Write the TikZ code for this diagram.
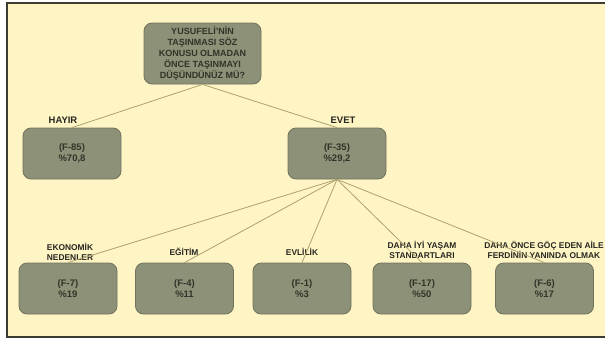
\documentclass[tikz,border=0pt]{standalone}
\usepackage{fontspec}
\setmainfont{Liberation Sans}
\usetikzlibrary{positioning}
\definecolor{paper}{RGB}{255,245,196}
\definecolor{frameedge}{RGB}{62,60,48}
\definecolor{boxfill}{RGB}{140,145,120}
\definecolor{boxedge}{RGB}{112,116,92}
\definecolor{boxtext}{RGB}{50,52,40}
\definecolor{tagtext}{RGB}{38,38,34}
\definecolor{branchcol}{RGB}{172,162,112}
\tikzset{
  box/.style={draw=boxedge, fill=boxfill, rounded corners=8pt, line width=0.8pt,
    minimum width=98pt, minimum height=51pt, inner sep=0pt, align=center,
    text=boxtext, font=\fontsize{9.5}{11}\selectfont\bfseries},
  question/.style={box, minimum width=117pt, minimum height=61pt,
    font=\fontsize{9}{11.2}\selectfont\bfseries},
  answer/.style={inner sep=0pt, text=tagtext, font=\fontsize{9.5}{11}\selectfont\bfseries},
  reason/.style={inner sep=0pt, align=center, text=tagtext, font=\fontsize{8.4}{10}\selectfont\bfseries},
  branch/.style={draw=branchcol, line width=0.8pt}
}

\begin{document}
\begin{tikzpicture}[x=1pt,y=-1pt]
      \useasboundingbox (0,0) rectangle (605,340);
      \fill[white] (0,0) rectangle (605,340);
      \draw[fill=paper, draw=frameedge, line width=1.5pt] (7,3) rectangle (615,337);
      % question and first answers
      \node[question] (q) at (202.5,53.5) {YUSUFELİ'NİN\\TAŞINMASI SÖZ\\KONUSU OLMADAN\\ÖNCE TAŞINMAYI\\DÜŞÜNDÜNÜZ MÜ?};
      \node[box] (hayir) at (72,153.5) {(F-85)\\\%70,8};
      \node[box] (evet) at (337,153.5) {(F-35)\\\%29,2};
      \node[answer] (hayirtag) at (63,120) {HAYIR};
      \node[answer] (evettag) at (343,120) {EVET};
      % reasons
      \node[box] (ekon) at (68,288.5) {(F-7)\\\%19};
      \node[box] (egit) at (184.5,288.5) {(F-4)\\\%11};
      \node[box] (evli) at (302,288.5) {(F-1)\\\%3};
      \node[box] (yasam) at (422,288.5) {(F-17)\\\%50};
      \node[box] (aile) at (544.5,288.5) {(F-6)\\\%17};
      \node[reason] (ekontag) at (70,252) {EKONOMİK\\NEDENLER};
      \node[reason] (egittag) at (184,252) {EĞİTİM};
      \node[reason] (evlitag) at (302,252) {EVLİLİK};
      \node[reason] (yasamtag) at (422,250) {DAHA İYİ YAŞAM\\STANDARTLARI};
      \node[reason] (ailetag) at (544,250) {DAHA ÖNCE GÖÇ EDEN AİLE\\FERDİNİN YANINDA OLMAK};
      \draw[branch] (q.south) -- (hayir.north);
      \draw[branch] (q.south) -- (evet.north);
      \draw[branch] (evet.south) -- (ekon.north);
      \draw[branch] (evet.south) -- (egit.north);
      \draw[branch] (evet.south) -- (evli.north);
      \draw[branch] (evet.south) -- (yasam.north);
      \draw[branch] (evet.south) -- (aile.north);
\end{tikzpicture}
\end{document}
